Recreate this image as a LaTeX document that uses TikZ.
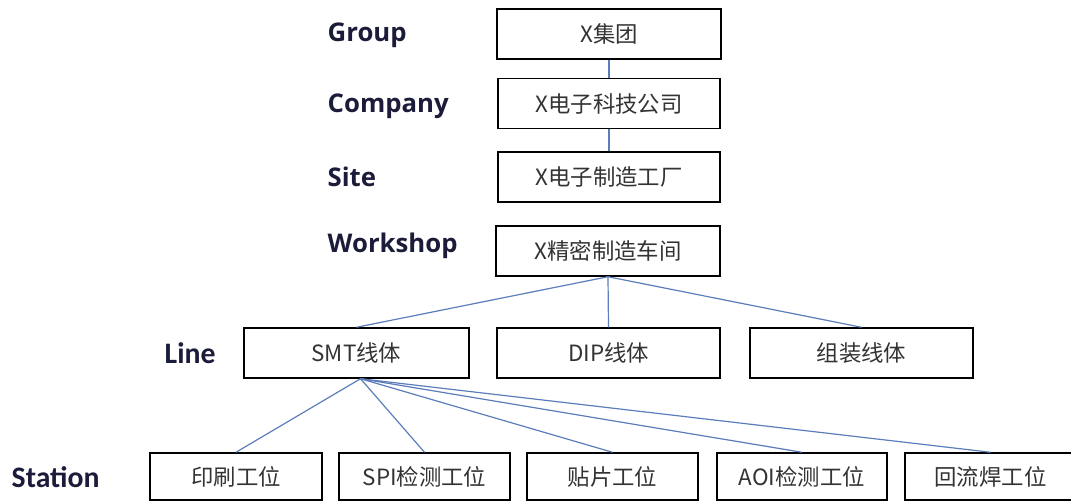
\documentclass[tikz,border=0pt]{standalone}
\usepackage{fontspec}
\setmainfont{Open Sans}
\newfontfamily\cjk{Noto Sans CJK SC}
\newfontfamily\lblA{Open Sans}
\newfontfamily\lblB{Carlito}
\definecolor{navy}{HTML}{1B1B3A}
\definecolor{txt}{HTML}{333333}
\definecolor{link}{HTML}{5B7DBA}
\begin{document}
\begin{tikzpicture}[x=0.75pt,y=-0.75pt,
  box/.style={draw=black,line width=1.1pt,rectangle,inner sep=0pt,minimum height=37.5pt,text=txt,font=\cjk\fontsize{16.8}{18}\selectfont},
  lvlA/.style={anchor=west,text=navy,font=\lblA\bfseries\fontsize{19.3}{21}\selectfont},
  lvlB/.style={anchor=west,text=navy,font=\lblB\bfseries\fontsize{22.3}{24}\selectfont},
  conn/.style={draw=link,line width=0.9pt}]
\useasboundingbox (0,0) rectangle (1071,502);
% top chain
\node[box,minimum width=168pt] (grp) at (609,34) {X集团};
\node[box,minimum width=166.5pt] (cmp) at (609,103.5) {X电子科技公司};
\node[box,minimum width=166.5pt] (site) at (609,177) {X电子制造工厂};
\node[box,minimum width=168pt] (ws) at (608,251) {X精密制造车间};
% lines
\node[box,minimum width=168.75pt] (smt) at (356.5,353) {SMT线体};
\node[box,minimum width=167.25pt] (dip) at (608.5,353) {DIP线体};
\node[box,minimum width=167.25pt] (asm) at (861.5,353) {组装线体};
% stations
\node[box,minimum width=129pt,minimum height=35.25pt] (s1) at (236,476.5) {印刷工位};
\node[box,minimum width=128.25pt,minimum height=35.25pt] (s2) at (424.5,476.5) {SPI检测工位};
\node[box,minimum width=128.25pt,minimum height=35.25pt] (s3) at (612.5,476.5) {贴片工位};
\node[box,minimum width=127.5pt,minimum height=35.25pt] (s4) at (802,476.5) {AOI检测工位};
\node[box,minimum width=128.25pt,minimum height=35.25pt] (s5) at (990.5,476.5) {回流焊工位};
% level labels
\node[lvlA] (lg) at (323,35) {Group};
\node[lvlA] (lc) at (323,106) {Company};
\node[lvlA] (ls) at (323,177) {Site};
\node[lvlA] (lw) at (323,246) {Workshop};
\node[lvlB] (ll) at (160,353) {Line};
\node[lvlB] (lst) at (7,477) {Station};
% connectors
\draw[conn] (grp.south) -- (cmp.north);
\draw[conn] (cmp.south) -- (site.north);
\draw[conn] (ws.south) -- (smt.north);
\draw[conn] (ws.south) -- (dip.north);
\draw[conn] (ws.south) -- (asm.north);
\foreach \s in {s1,s2,s3,s4,s5}{\draw[conn] ([xshift=3pt]smt.south) -- (\s.north);}
\end{tikzpicture}
\end{document}
